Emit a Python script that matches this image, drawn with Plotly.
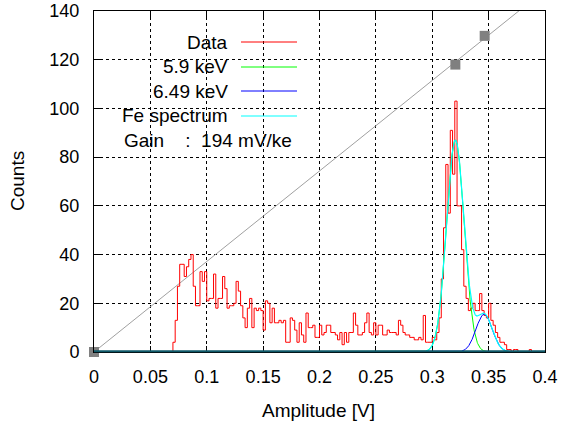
import numpy as np
import plotly.graph_objects as go

# ---------------- data ----------------
bin_width = 0.002
bin_start = 0.070
counts = [4, 13, 27, 36, 36, 31, 35, 38, 40, 27,
          19, 19, 33, 29, 33, 21, 22, 22, 32, 18,
          22, 22, 31, 26, 18, 19, 19, 20, 29, 25,
          19, 14, 10, 18, 22, 10, 18, 17, 18, 17,
          9, 21, 20, 12, 18, 12, 12, 13, 12, 13,
          4, 4, 14, 13, 9, 4, 12, 7, 4, 16,
          10, 10, 11, 6, 6, 11, 7, 8, 11, 11,
          8, 8, 7, 5, 8, 3, 8, 4, 8, 8,
          16, 11, 7, 7, 8, 12, 16, 8, 7, 12,
          7, 11, 11, 7, 7, 9, 8, 8, 8, 7,
          13, 11, 8, 7, 7, 6, 6, 5, 5, 6,
          5, 15, 4, 4, 4, 6, 5, 8, 14, 30,
          51, 77, 57, 91, 73, 103, 60, 60, 42, 27,
          22, 17, 18, 20, 17, 17, 24, 17, 15, 14,
          20, 13, 11, 8, 6, 4, 4, 3, 1, 1,
          0, 1, 1, 0, 0, 0, 0, 0, 1, 0]

# Gaussian fit parameters (amplitude, mean [V], sigma [V])
g59 = (87.0, 0.3205, 0.0078)
g649 = (15.5, 0.3460, 0.0072)

# calibration points (amplitude [V], energy*20)
calib_x = [0.0, 0.3205, 0.3465]
calib_y = [0.0, 118.0, 129.8]

legend_labels = ["Data", "5.9 keV", "6.49 keV", "Fe spectrum"]
legend_colors = ["#ff0000", "#00ff00", "#0000ff", "#00ffff"]
gain_text = "Gain&nbsp;&nbsp;&nbsp;&nbsp;:&nbsp;&nbsp;194 mV/ke"

x_ticks = [0, 0.05, 0.1, 0.15, 0.2, 0.25, 0.3, 0.35, 0.4]
x_ticktext = ["0", "0.05", "0.1", "0.15", "0.2", "0.25", "0.3", "0.35", "0.4"]
y_ticks = [0, 20, 40, 60, 80, 100, 120, 140]

# ---------------- build ----------------
edges = bin_start + bin_width * np.arange(len(counts) + 1)
hx = np.concatenate([[bin_start - bin_width], edges])
hy = np.concatenate([[0], counts, [0]])

xs = np.linspace(0, 0.4, 1601)
def gauss(p, x):
    a, m, s = p
    return a * np.exp(-0.5 * ((x - m) / s) ** 2)
y1 = gauss(g59, xs)
y2 = gauss(g649, xs)
yfe = y1 + y2

cx = np.array(calib_x); cy = np.array(calib_y)
slope = (cx * cy).sum() / (cx * cx).sum()
lx = np.array([0.0, 0.4])
ly = slope * lx

FONT = "Liberation Sans, Arial, Helvetica, sans-serif"

fig = go.Figure()
fig.add_trace(go.Scatter(x=lx, y=ly, mode="lines", line=dict(color="#a0a0a0", width=1), showlegend=False))
fig.add_trace(go.Scatter(x=hx, y=hy, mode="lines", line=dict(color="#ff0000", width=1, shape="hv"), showlegend=False))
fig.add_trace(go.Scatter(x=xs, y=y1, mode="lines", line=dict(color="#00ff00", width=1), showlegend=False))
fig.add_trace(go.Scatter(x=xs, y=y2, mode="lines", line=dict(color="#0000ff", width=1), showlegend=False))
fig.add_trace(go.Scatter(x=xs, y=yfe, mode="lines", line=dict(color="#00ffff", width=1.2), showlegend=False))
fig.add_trace(go.Scatter(x=calib_x, y=calib_y, mode="markers", cliponaxis=False,
                         marker=dict(symbol="square", size=10, color="#808080"), showlegend=False))

# plot area in pixels
L, R, T, B = 94, 545, 11, 352
W, H = 562, 425
def px(xp):
    return (xp - L) / (R - L)
def py(yp):
    return (B - yp) / (B - T)

annotations = []
shapes = []
rows = [42, 67, 91, 116]
for lab, col, yr in zip(legend_labels, legend_colors, rows):
    annotations.append(dict(xref="paper", yref="paper", x=px(230), y=py(yr), text=lab,
                            showarrow=False, xanchor="right", yanchor="middle",
                            font=dict(family=FONT, size=19, color="black")))
    shapes.append(dict(type="line", xref="paper", yref="paper", x0=px(241), x1=px(297),
                       y0=py(yr), y1=py(yr), line=dict(color=col, width=1)))
# baseline where all curves overlap the bottom axis
shapes.append(dict(type="line", xref="paper", yref="paper", x0=0, x1=1, y0=0.002, y1=0.002,
                   layer="above", line=dict(color="#0f5868", width=2)))
annotations.append(dict(xref="paper", yref="paper", x=px(122), y=py(140), text=gain_text,
                        showarrow=False, xanchor="left", yanchor="middle",
                        font=dict(family=FONT, size=19, color="black")))
annotations.append(dict(xref="paper", yref="paper", x=px(318), y=py(410), text="Amplitude [V]",
                        showarrow=False, xanchor="center", yanchor="middle",
                        font=dict(family=FONT, size=19, color="black")))
annotations.append(dict(xref="paper", yref="paper", x=px(17), y=py(181), text="Counts",
                        showarrow=False, xanchor="center", yanchor="middle", textangle=-90,
                        font=dict(family=FONT, size=19, color="black")))

fig.update_layout(
    width=W, height=H,
    margin=dict(l=L, r=W - R, t=T, b=H - B, autoexpand=False),
    paper_bgcolor="white", plot_bgcolor="white",
    font=dict(family=FONT, size=18, color="black"),
    annotations=annotations, shapes=shapes,
    xaxis=dict(range=[0, 0.4], tickvals=x_ticks, ticktext=x_ticktext, automargin=False,
               showgrid=True, gridcolor="#000000", gridwidth=1, griddash="3px,3px",
               showline=True, linecolor="black", linewidth=1, mirror="ticks",
               ticks="inside", ticklen=6, tickcolor="black", zeroline=False,
               ticklabelstandoff=8),
    yaxis=dict(range=[0, 140], tickvals=y_ticks, automargin=False,
               showgrid=True, gridcolor="#000000", gridwidth=1, griddash="3px,3px",
               showline=True, linecolor="black", linewidth=1, mirror="ticks",
               ticks="inside", ticklen=6, tickcolor="black", zeroline=False,
               ticklabelstandoff=10),
)

fig.write_html("out.html")
